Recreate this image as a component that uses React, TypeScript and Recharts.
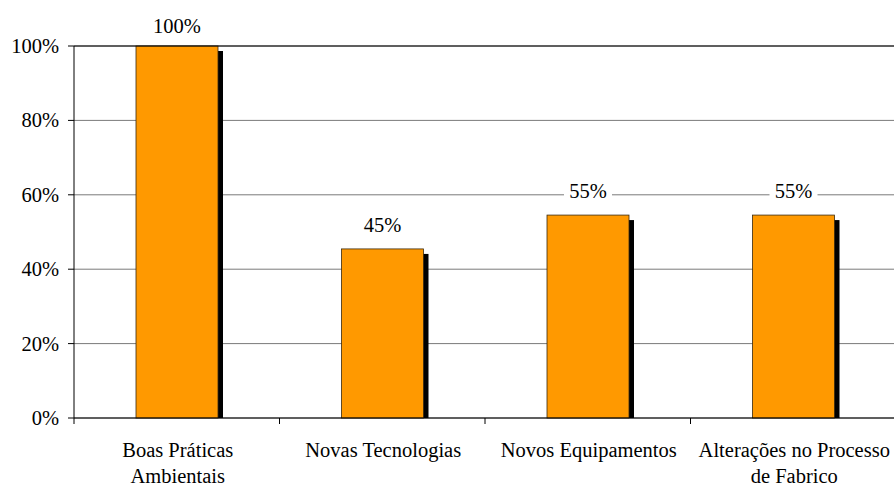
import { Bar, BarChart, CartesianGrid, LabelList, ReferenceLine, XAxis, YAxis } from 'recharts'

const categories = [
  ['Boas Práticas', 'Ambientais'],
  ['Novas Tecnologias'],
  ['Novos Equipamentos'],
  ['Alterações no Processo', 'de Fabrico'],
]
const values = [100, 45.45, 54.55, 54.55]
const yTicks = [0, 20, 40, 60, 80, 100]

const data = categories.map((lines, i) => ({ name: lines.join(' '), lines, value: values[i] }))

const textStyle = { fontFamily: 'Liberation Serif', fontSize: 20.5 }
const W = 896
const H = 486
const LEFT = 74
const band = (W - LEFT) / categories.length

const ShadowBar = (props: any) => {
  const { x, y, width, height } = props
  return (
    <g>
      <rect x={x + 5} y={y + 5} width={width} height={Math.max(height - 5, 0)} fill={'#000'} />
      <rect x={x} y={y} width={width} height={height} fill={'#FF9900'} stroke={'#3a2a10'} strokeWidth={0.8} />
    </g>
  )
}

const ValueLabel = (props: any) => {
  const { x, y, width, value } = props
  const cx = x + width / 2
  const by = Math.max(y - 17, 33)
  return (
    <g>
      <rect x={cx - 24} y={by - 17} width={48} height={22} fill={'#fff'} />
      <text x={cx} y={by} textAnchor={'middle'} style={textStyle} fill={'#000'}>
        {`${Math.round(value)}%`}
      </text>
    </g>
  )
}

const CategoryTick = (props: any) => {
  const { x, y, payload, index } = props
  const lines = categories[index] ?? [payload.value]
  return (
    <g>
      <line x1={x - band / 2} x2={x - band / 2} y1={y - 8} y2={y - 2} stroke={'#000'} />
      {lines.map((l, i) => (
        <text key={i} x={x + 1} y={y + 31 + i * 26} textAnchor={'middle'} style={textStyle} fill={'#000'}>
          {l}
        </text>
      ))}
    </g>
  )
}

const ValueTick = (props: any) => {
  const { x, y, payload } = props
  return (
    <text x={x} y={y + 7} textAnchor={'end'} style={textStyle} fill={'#000'}>
      {`${payload.value}%`}
    </text>
  )
}

export default function App() {
  return (
    <div style={{ position: 'absolute', left: 0, top: 0, width: 894, height: H, overflow: 'hidden', background: '#fff', fontFamily: 'Liberation Serif' }}>
      <BarChart width={W} height={H} data={data} margin={{ top: 46, right: 0, bottom: 0, left: 0 }} barSize={82}>
        <CartesianGrid vertical={false} stroke={'#7a7a7a'} />
        <ReferenceLine y={100} stroke={'#000'} />
        <XAxis
          dataKey={'name'}
          axisLine={{ stroke: '#000' }}
          tickLine={false}
          height={68}
          interval={0}
          tick={<CategoryTick />}
        />
        <YAxis
          domain={[0, 100]}
          ticks={yTicks}
          width={LEFT}
          axisLine={{ stroke: '#000' }}
          tickLine={{ stroke: '#000' }}
          tickSize={6}
          tickMargin={9}
          tick={<ValueTick />}
        />
        <Bar dataKey={'value'} shape={<ShadowBar />} isAnimationActive={false}>
          <LabelList dataKey={'value'} content={<ValueLabel />} />
        </Bar>
      </BarChart>
    </div>
  )
}
